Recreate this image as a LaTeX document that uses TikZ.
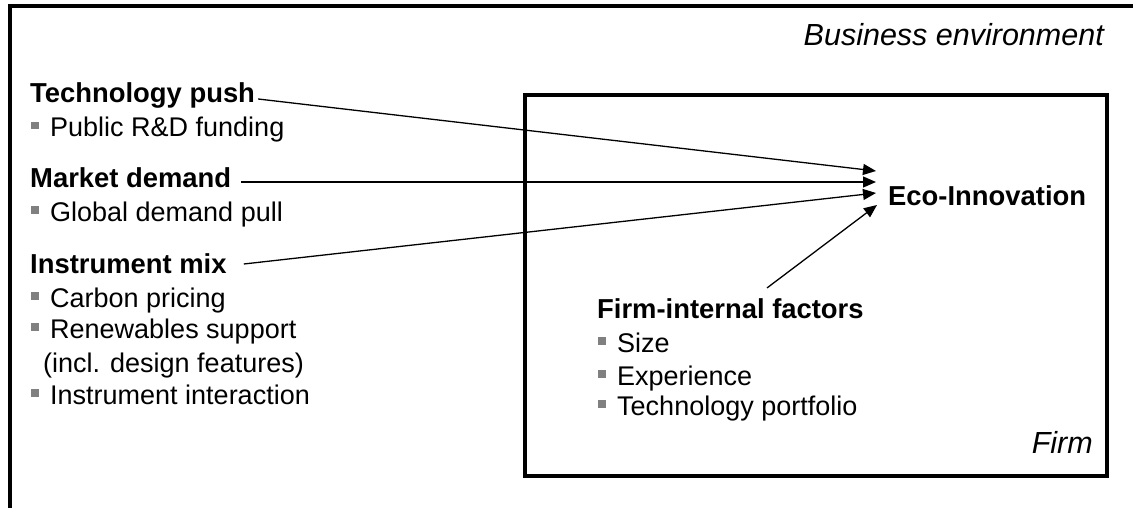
\documentclass[tikz,border=0pt]{standalone}
\usepackage{fontspec}
\setmainfont{Liberation Sans}
\usetikzlibrary{arrows.meta,calc}
\definecolor{bulgray}{RGB}{128,128,128}
\newcommand\bul{\textcolor{bulgray}{\rule[7.5pt]{7.5pt}{7.5pt}}\hspace{11.5pt}}
\tikzset{
  hd/.style={anchor=base west, inner sep=0pt, font=\bfseries\fontsize{27.4}{27.4}\selectfont},
  tx/.style={anchor=base west, inner sep=0pt, font=\fontsize{27}{27}\selectfont},
  lbl/.style={anchor=base east, inner sep=0pt, font=\itshape\fontsize{30.5}{30.5}\selectfont},
  frame/.style={line width=4pt, line join=miter},
  con/.style={line width=1.3pt, -{Triangle[length=13pt,width=11pt]}},
}
\begin{document}
\begin{tikzpicture}[x=1pt,y=-1pt]
\useasboundingbox (0,0) rectangle (1133,508);
\clip (0,0) rectangle (1133,508);
\fill[white] (0,0) rectangle (1133,508);
% outer frame (business environment), cut by the picture edge
\draw[frame] (10,540) -- (10,6) -- (1160,6);
\node[lbl] (env) at (1104,46) {Business environment};
% firm box
\draw[frame] (525,95) rectangle (1107,476);
\node[lbl] (firm) at (1093,453) {Firm};
% left groups
\node[hd] (tp) at (30,103) {Technology push};
\node[tx] (tp1) at (31,137) {\bul Public R\&D funding};
\node[hd] (md) at (30,187) {Market demand};
\node[tx] (md1) at (31,221) {\bul Global demand pull};
\node[hd] (im) at (30,273) {Instrument mix};
\node[tx] (im1) at (31,307) {\bul Carbon pricing};
\node[tx] (im2) at (31,338) {\bul Renewables support};
\node[tx] (im3) at (43,372) {(incl. design features)};
\node[tx] (im4) at (31,404) {\bul Instrument interaction};
% firm-internal
\node[hd] (fi) at (597,318) {Firm-internal factors};
\node[tx] (fi1) at (598,352) {\bul Size};
\node[tx] (fi2) at (598,385) {\bul Experience};
\node[tx] (fi3) at (598,415) {\bul Technology portfolio};
% eco-innovation
\node[hd] (eco) at (888,205) {Eco-Innovation};
\coordinate (a1) at (876,171);
\coordinate (a2) at (876,182);
\coordinate (a3) at (876,193);
\coordinate (a4) at (877,205);
% connectors
\draw[con] ([xshift=3pt,yshift=4pt]tp.base east) -- (a1);
\draw[con] ([xshift=10pt,yshift=5pt]md.base east) -- (a2);
\draw[con] ([xshift=17pt,yshift=9pt]im.base east) -- (a3);
\draw[con] ($(fi.north west)+(170,-10)$) -- (a4);
\end{tikzpicture}
\end{document}
